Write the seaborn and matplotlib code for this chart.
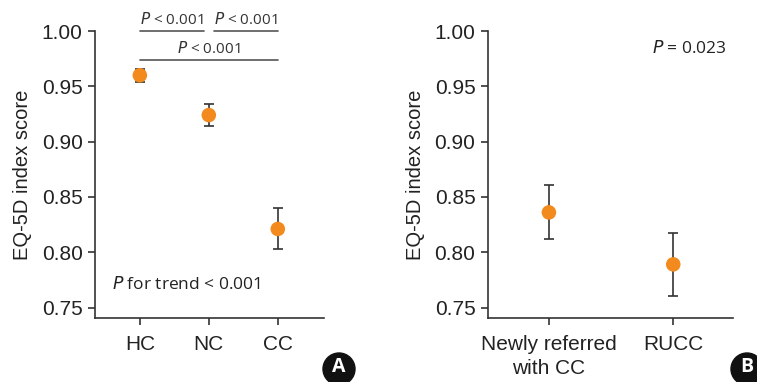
import matplotlib.pyplot as plt
import matplotlib.patches as mpatches
import seaborn as sns
import pandas as pd

# Panel A data
grupos_a = ["HC", "NC", "CC"]
media_a = [0.960, 0.924, 0.821]
bawah_a = [0.954, 0.914, 0.8025]
atas_a = [0.966, 0.934, 0.840]

# Panel B data
grupos_b = ["Newly referred\nwith CC", "RUCC"]
media_b = [0.836, 0.789]
bawah_b = [0.812, 0.760]
atas_b = [0.861, 0.817]

yticks = [0.75, 0.80, 0.85, 0.90, 0.95, 1.00]

sns.set_style("ticks")
plt.rcParams['font.family'] = ['Liberation Sans', 'DejaVu Sans']

ORANYE = "#F28A1E"
GELAP = "#333333"
ANOT = ['Open Sans', 'DejaVu Sans']

fig = plt.figure(figsize=(7.57, 3.82), dpi=100)
ax_a = fig.add_axes([0.1255, 0.1675, 0.3025, 0.7513])
ax_b = fig.add_axes([0.6446, 0.1675, 0.3236, 0.7513])


def gambar_panel(ax, grupos, media, bawah, atas, xlim):
    df = pd.DataFrame({"grup": grupos, "media": media,
                       "bawah": bawah, "atas": atas})
    pos = list(range(len(grupos)))
    err = [[m - b for m, b in zip(df["media"], df["bawah"])],
           [a - m for m, a in zip(df["media"], df["atas"])]]
    ax.errorbar(pos, df["media"], yerr=err, fmt="none", ecolor=GELAP,
                elinewidth=1.2, capsize=3.5, capthick=1.2, zorder=2)
    sns.scatterplot(x=pos, y=df["media"], ax=ax, color=ORANYE, s=110,
                    edgecolor="none", zorder=3, legend=False)
    ax.set_xticks(pos)
    ax.set_xticklabels(grupos, fontsize=15, color="#222222",
                       linespacing=1.35)
    ax.set_yticks(yticks)
    ax.set_yticklabels([f"{v:.2f}" for v in yticks], fontsize=15,
                       color="#222222")
    ax.set_ylim(0.7405, 1.0)
    ax.set_xlim(*xlim)
    ax.set_ylabel("EQ-5D index score", fontsize=14.5, color="#222222",
                  labelpad=7)
    ax.set_xlabel("")
    for s in ["top", "right"]:
        ax.spines[s].set_visible(False)
    for s in ["left", "bottom"]:
        ax.spines[s].set_color(GELAP)
        ax.spines[s].set_linewidth(1.2)
    ax.spines["left"].set_bounds(0.7405, 1.0)
    ax.tick_params(axis="y", direction="out", length=5, width=1.2,
                   color=GELAP, pad=4)
    ax.tick_params(axis="x", direction="out", length=5, width=1.2,
                   color=GELAP, pad=7)


gambar_panel(ax_a, grupos_a, media_a, bawah_a, atas_a, (-0.65, 2.67))
gambar_panel(ax_b, grupos_b, media_b, bawah_b, atas_b, (-0.49, 1.48))

# brackets panel A
garis = dict(color="#555555", lw=1.2, clip_on=False)
ax_a.plot([0, 0.93], [1.0, 1.0], **garis)
ax_a.plot([1.07, 2.0], [1.0, 1.0], **garis)
ax_a.plot([0, 2.0], [0.9735, 0.9735], **garis)
ax_a.text(0.465, 1.003, r"$\it{P}$ < 0.001", ha="center", va="bottom",
          fontsize=11, family=ANOT, color="#333333", clip_on=False)
ax_a.text(1.535, 1.003, r"$\it{P}$ < 0.001", ha="center", va="bottom",
          fontsize=11, family=ANOT, color="#333333", clip_on=False)
ax_a.text(1.0, 0.9765, r"$\it{P}$ < 0.001", ha="center", va="bottom",
          fontsize=11, family=ANOT, color="#333333")
ax_a.text(-0.4, 0.7705, r"$\it{P}$ for trend < 0.001", ha="left",
          va="center", fontsize=12.5, family=ANOT, color="#222222")

ax_b.text(1.43, 0.984, r"$\it{P}$ = 0.023", ha="right", va="center",
          fontsize=12.5, family=ANOT, color="#222222")

# panel badges
for xc, huruf in [(339 / 757, "A"), (747 / 757, "B")]:
    yc = 1 - 369 / 382
    lingkar = mpatches.Ellipse((xc, yc), 32 / 757, 32 / 382,
                               transform=fig.transFigure, color="#111111",
                               clip_on=False)
    fig.patches.append(lingkar)
    fig.text(xc, yc + 0.004, huruf, ha="center", va="center", color="white",
             fontsize=14, fontweight="bold", family=ANOT)

fig.savefig("out.png", dpi=100)
plt.close(fig)
